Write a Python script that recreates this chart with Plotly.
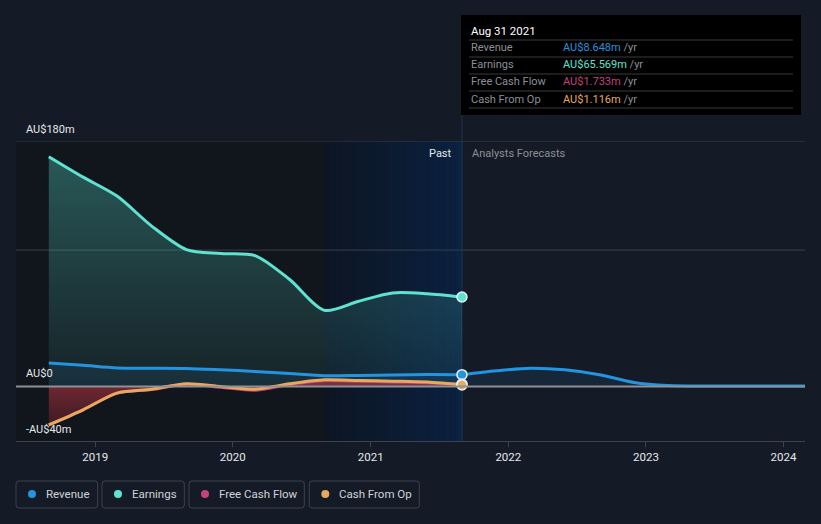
import plotly.graph_objects as go
import datetime as _dt

# ---------------- data ----------------
past_dates = ["2018-08-31", "2018-11-30", "2019-02-28", "2019-05-31", "2019-08-31",
              "2019-11-30", "2020-02-29", "2020-05-31", "2020-08-31", "2020-11-30",
              "2021-02-28", "2021-05-31", "2021-08-31"]
revenue_past = [17.2, 15.5, 13.6, 13.4, 13.2, 12.2, 11.0, 9.5, 7.9, 8.1, 8.4, 8.8, 8.648]
earnings_past = [168.5, 153.5, 139.6, 117.6, 100.4, 97.5, 96.0, 78.4, 55.8, 62.5, 68.6, 68.0, 65.569]
fcf_past = [-28.2, -17.1, -4.9, -2.3, 1.6, -0.6, -2.8, 1.4, 4.3, 3.8, 3.3, 2.8, 1.733]
cfo_past = [-28.2, -17.1, -4.9, -2.0, 2.0, 0.0, -2.0, 2.0, 4.9, 4.4, 3.9, 3.2, 1.116]

fc_dates = ["2021-08-31", "2021-11-30", "2022-02-28", "2022-05-31", "2022-08-31",
            "2022-11-30", "2023-02-28", "2023-08-31", "2024-02-27"]
revenue_fc = [8.648, 11.5, 13.4, 12.2, 8.6, 2.9, 0.7, 0.4, 0.4]

series_names = ["Revenue", "Earnings", "Free Cash Flow", "Cash From Op"]
series_colors = ["#2394df", "#5ee3d1", "#c4437f", "#e8a95b"]
tooltip_date = "Aug 31 2021"
tooltip_values = ["AU$8.648m", "AU$65.569m", "AU$1.733m", "AU$1.116m"]

ytick_vals = [180, 0, -40]
ytick_text = ["AU$180m", "AU$0", "-AU$40m"]
grid_vals = [100, 180]
xtick_vals = ["2019-01-01", "2020-01-01", "2021-01-01", "2022-01-01", "2023-01-01", "2024-01-01"]
xtick_text = ["2019", "2020", "2021", "2022", "2023", "2024"]

x_range = ["2018-06-05", "2024-02-27"]
y_range = [-40, 180]
band_start = "2020-08-31"
now_date = "2021-08-31"

# ---------------- layout helpers ----------------
W, H = 821, 524
L, R, T, B = 16, 16, 141, 83
PW, PH = W - L - R, H - T - B

def px(x):
    return (x - L) / PW

def py(y):
    return (H - B - y) / PH

BG = "#151b26"
FONT = "Roboto, 'Open Sans', sans-serif"

fig = go.Figure()

# Earnings (filled)
fig.add_trace(go.Scatter(
    x=past_dates, y=earnings_past, mode="lines", name="Earnings",
    line=dict(color=series_colors[1], width=3, shape="spline", smoothing=0.8),
    fill="tozeroy",
    fillgradient=dict(type="vertical",
                      colorscale=[[0, "rgba(70,170,160,0.10)"], [1, "rgba(80,200,185,0.38)"]]),
    hoverinfo="skip"))

# Revenue past and forecast
fig.add_trace(go.Scatter(
    x=past_dates, y=revenue_past, mode="lines", name="Revenue",
    line=dict(color=series_colors[0], width=3, shape="spline", smoothing=0.8),
    fill="tozeroy", fillcolor="rgba(35,148,223,0.10)", hoverinfo="skip"))
fig.add_trace(go.Scatter(
    x=fc_dates, y=revenue_fc, mode="lines", name="Revenue forecast",
    line=dict(color=series_colors[0], width=3, shape="spline", smoothing=0.8),
    fill="tozeroy", fillcolor="rgba(35,148,223,0.10)", hoverinfo="skip"))

# Free cash flow (filled, red on negative)
fig.add_trace(go.Scatter(
    x=past_dates, y=fcf_past, mode="lines", name="Free Cash Flow",
    line=dict(color=series_colors[2], width=3, shape="spline", smoothing=0.8),
    fill="tozeroy",
    fillgradient=dict(type="vertical",
                      colorscale=[[0, "rgba(150,40,55,0.35)"], [1, "rgba(190,55,65,0.6)"]]),
    hoverinfo="skip"))

# Cash from op
fig.add_trace(go.Scatter(
    x=past_dates, y=cfo_past, mode="lines", name="Cash From Op",
    line=dict(color=series_colors[3], width=3, shape="spline", smoothing=0.8),
    hoverinfo="skip"))

# hover markers at the last actual point
last_vals = [revenue_past[-1], earnings_past[-1], fcf_past[-1], cfo_past[-1]]
for i in [1, 0, 2, 3]:
    fig.add_trace(go.Scatter(
        x=[past_dates[-1]], y=[last_vals[i]], mode="markers",
        marker=dict(color=series_colors[i], size=10, line=dict(color="#e8eef5", width=1.5)),
        hoverinfo="skip"))

shapes = []
# dark past region
shapes.append(dict(type="rect", xref="x", yref="paper", x0=x_range[0], x1=now_date,
                   y0=0, y1=1, fillcolor="#11151c", line=dict(width=0), layer="below"))
# blue gradient band (last year)
d0 = _dt.date.fromisoformat(band_start)
d1 = _dt.date.fromisoformat(now_date)
n = 24
span = (d1 - d0).days
c0 = (13, 21, 35)
c1 = (10, 33, 64)
for k in range(n):
    a = d0 + _dt.timedelta(days=span * k / n)
    b = d0 + _dt.timedelta(days=span * (k + 1) / n + 1)
    t = (k + 0.5) / n
    col = tuple(int(round(c0[j] + (c1[j] - c0[j]) * t)) for j in range(3))
    shapes.append(dict(type="rect", xref="x", yref="paper", x0=a.isoformat(),
                       x1=min(b, d1).isoformat(), y0=0, y1=1,
                       fillcolor="rgb(%d,%d,%d)" % col, line=dict(width=0), layer="below"))
# grid lines
for g in grid_vals:
    shapes.append(dict(type="line", xref="paper", yref="y", x0=0, x1=1, y0=g, y1=g,
                       line=dict(color="#3a404b", width=1), layer="below"))
# zero line
shapes.append(dict(type="line", xref="paper", yref="y", x0=0, x1=1, y0=0, y1=0,
                   line=dict(color="#8e9096", width=2), layer="above"))
# now line
shapes.append(dict(type="line", xref="x", yref="paper", x0=now_date, x1=now_date,
                   y0=0, y1=py(115), line=dict(color="#1d3656", width=1), layer="below"))

# tooltip box
shapes.append(dict(type="rect", xref="paper", yref="paper", x0=px(461), x1=px(801),
                   y0=py(115), y1=py(15), fillcolor="#000000", line=dict(width=0)))
for yy in [40, 57, 74, 91, 108]:
    shapes.append(dict(type="line", xref="paper", yref="paper", x0=px(469), x1=px(793),
                       y0=py(yy), y1=py(yy), line=dict(color="#3a3a3a", width=1)))

annotations = []
annotations.append(dict(xref="paper", yref="paper", x=px(469), y=py(31), text=tooltip_date,
                        showarrow=False, xanchor="left", yanchor="middle",
                        font=dict(color="#ffffff", size=11.5, family=FONT)))
for i, (nm, val) in enumerate(zip(series_names, tooltip_values)):
    yy = 48 + 17 * i
    annotations.append(dict(xref="paper", yref="paper", x=px(469), y=py(yy), text=nm,
                            showarrow=False, xanchor="left", yanchor="middle",
                            font=dict(color="#8c8f95", size=11, family=FONT)))
    annotations.append(dict(xref="paper", yref="paper", x=px(561), y=py(yy),
                            text="<span style='color:%s'>%s</span> <span style='color:#8c8f95'>/yr</span>" % (series_colors[i], val),
                            showarrow=False, xanchor="left", yanchor="middle",
                            font=dict(size=11, family=FONT)))

# y tick labels
ylab_pos = {180: 129, 0: 373, -40: 429}
for v, t in zip(ytick_vals, ytick_text):
    annotations.append(dict(xref="paper", yref="paper", x=px(24), y=py(ylab_pos[v]), text=t,
                            showarrow=False, xanchor="left", yanchor="middle",
                            font=dict(color="#e6e8eb", size=11, family=FONT)))

# Past / Analysts Forecasts
annotations.append(dict(xref="x", yref="paper", x=now_date, xshift=-8, y=py(153), text="Past",
                        showarrow=False, xanchor="right", yanchor="middle",
                        font=dict(color="#e6e8eb", size=11, family=FONT)))
annotations.append(dict(xref="x", yref="paper", x=now_date, xshift=8, y=py(153), text="Analysts Forecasts",
                        showarrow=False, xanchor="left", yanchor="middle",
                        font=dict(color="#8c8f95", size=11, family=FONT)))

# legend boxes
leg_boxes = [(16, 97.7), (102, 184.3), (189, 304.3), (309.3, 419.3)]
for (x0, x1), nm, col in zip(leg_boxes, series_names, series_colors):
    r = 3
    y0p, y1p = 481, 508
    path = ("M %f,%f L %f,%f Q %f,%f %f,%f L %f,%f Q %f,%f %f,%f L %f,%f Q %f,%f %f,%f L %f,%f Q %f,%f %f,%f Z" % (
        px(x0 + r), py(y0p), px(x1 - r), py(y0p), px(x1), py(y0p), px(x1), py(y0p + r),
        px(x1), py(y1p - r), px(x1), py(y1p), px(x1 - r), py(y1p),
        px(x0 + r), py(y1p), px(x0), py(y1p), px(x0), py(y1p - r),
        px(x0), py(y0p + r), px(x0), py(y0p), px(x0 + r), py(y0p)))
    shapes.append(dict(type="path", xref="paper", yref="paper", path=path,
                       line=dict(color="#3d424c", width=1), fillcolor="rgba(0,0,0,0)"))
    shapes.append(dict(type="circle", xref="paper", yref="paper",
                       x0=px(x0 + 12), x1=px(x0 + 20), y0=py(490), y1=py(498),
                       fillcolor=col, line=dict(width=0)))
    annotations.append(dict(xref="paper", yref="paper", x=px(x0 + 28), y=py(494.5), text=nm,
                            showarrow=False, xanchor="left", yanchor="middle",
                            font=dict(color="#d0d3d8", size=11.5, family=FONT)))

fig.update_layout(
    width=W, height=H,
    margin=dict(l=L, r=R, t=T, b=B),
    paper_bgcolor=BG, plot_bgcolor=BG,
    showlegend=False,
    shapes=shapes, annotations=annotations,
    font=dict(family=FONT, color="#e6e8eb", size=11),
    xaxis=dict(type="date", range=x_range, tickvals=xtick_vals, ticktext=xtick_text,
               showgrid=False, zeroline=False, showline=True, linecolor="#3d424c", linewidth=1,
               ticks="outside", ticklen=5, tickcolor="#3d424c",
               tickfont=dict(color="#e6e8eb", size=11.5, family=FONT), fixedrange=True),
    yaxis=dict(range=y_range, showgrid=False, zeroline=False, showticklabels=False,
               fixedrange=True),
)

fig.write_html("out.html", config={"displayModeBar": False},
               post_script="document.body.style.margin='0';document.body.style.background='%s';" % BG)
